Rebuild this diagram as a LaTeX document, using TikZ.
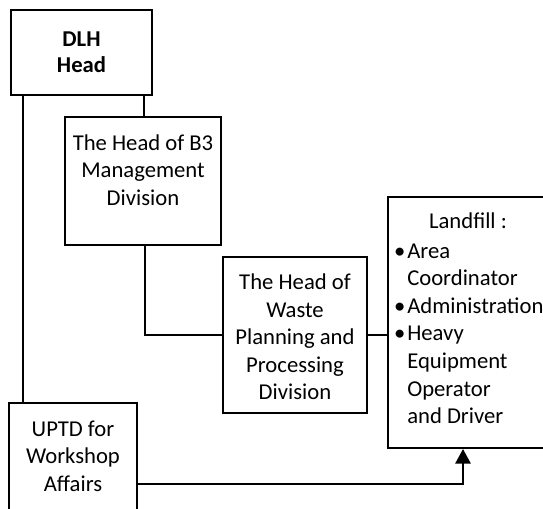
\documentclass[tikz,border=0pt]{standalone}
\usepackage{fontspec}
\setmainfont{Carlito}
\usetikzlibrary{arrows.meta,positioning}
\tikzset{
  >={Triangle[length=11pt,width=11.5pt]},
  orgbox/.style={draw=black,line width=1.5pt,inner sep=0pt},
  txt/.style={font=\fontsize{17}{20.6}\selectfont,align=center,inner sep=0pt},
  link/.style={line width=1.5pt},
}
\begin{document}
\begin{tikzpicture}[x=0.75pt,y=-0.75pt]
  \useasboundingbox (0,0) rectangle (543,508);
  % boxes
  \node[orgbox,minimum width=105.75pt,minimum height=63.75pt] (dlh) at (81.5,52.5) {};
  \node[orgbox,minimum width=117pt,minimum height=96pt] (b3) at (143,181) {};
  \node[orgbox,minimum width=108pt,minimum height=117pt] (waste) at (295,335) {};
  \node[orgbox,minimum width=121.5pt,minimum height=188.25pt] (landfill) at (469,322.5) {};
  \node[orgbox,minimum width=96pt,minimum height=87.75pt] (uptd) at (73,461.5) {};
  % texts
  \node[txt,font=\fontsize{17}{19.5}\selectfont\bfseries] (dlht) at (dlh.center) {DLH\\Head};
  \node[txt] (b3t) at (143,170) {The Head of B3\\Management\\Division};
  \node[txt] (wastet) at (295,337) {The Head of\\Waste\\Planning and\\Processing\\Division};
  \node[txt] (uptdt) at (73,456) {UPTD for\\Workshop\\Affairs};
  \node[txt,anchor=base] (lfhead) at (468,228) {Landfill :};
  \foreach \i/\t in {0/Area,1/Coordinator,2/Administration,3/Heavy,4/Equipment,5/Operator,6/and Driver}
    \node[txt,anchor=base west] (lf\i) at (407,258+27.6*\i) {\t};
  \foreach \i in {0,2,3}
    \node[txt,anchor=base east] at ([xshift=-1pt]lf\i.base west) {\textbullet};
  % connectors
  \draw[link] ([xshift=9.75pt]dlh.south west) -- ([xshift=9.75pt]dlh.south west |- uptd.north);
  \draw[link] ([xshift=-6.75pt]dlh.south east) -- ([xshift=-6.75pt]dlh.south east |- b3.north);
  \draw[link] ([xshift=1.5pt]b3.south) |- (waste.west);
  \draw[link] (waste.east) -- (landfill.west |- waste.east);
  \draw[link,->] ([yshift=-17pt]uptd.east) -| ([xshift=-4.5pt]landfill.south);
\end{tikzpicture}
\end{document}
